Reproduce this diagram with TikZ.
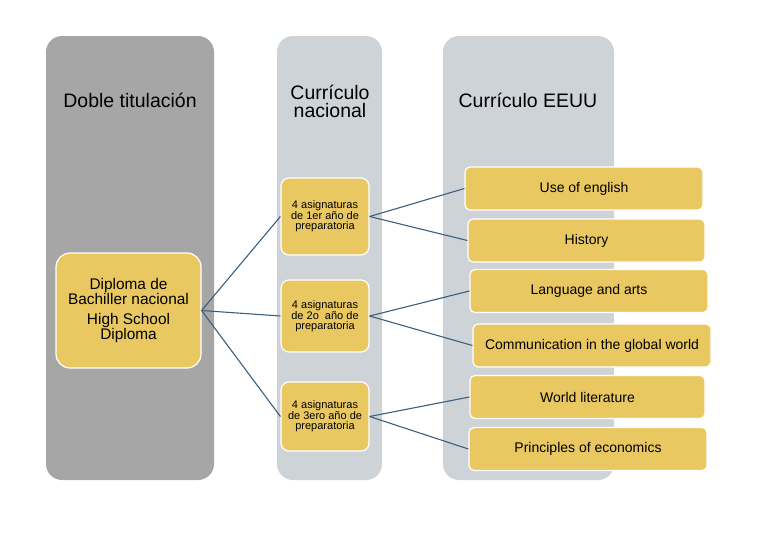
\documentclass[tikz,border=0pt]{standalone}
\usepackage{fontspec}
\setmainfont{Liberation Sans}
\definecolor{colA}{HTML}{A6A6A6}
\definecolor{colB}{HTML}{CED3D8}
\definecolor{gold}{HTML}{E9C862}
\definecolor{link}{HTML}{3B5F7E}
\tikzset{
  column/.style={rounded corners=16pt, draw=none},
  title/.style={font=\fontsize{19.5}{18}\selectfont, align=center, text=black},
  goldbox/.style={fill=gold, draw=white, line width=1.2pt, rectangle, inner sep=0pt, align=center},
  yearbox/.style={goldbox, rounded corners=8pt, minimum width=88pt, font=\fontsize{11}{10}\selectfont},
  subjbox/.style={goldbox, rounded corners=5pt, minimum height=43pt, font=\fontsize{14}{14}\selectfont},
  conn/.style={draw=link, line width=1.1pt}
}
\begin{document}
\begin{tikzpicture}[x=1pt,y=-1pt]
\useasboundingbox (0,0) rectangle (768,539);
% columns
\path[column, fill=colA] (46,36) rectangle (214,480);
\path[column, fill=colB] (277,36) rectangle (382,480);
\path[column, fill=colB] (443,36) rectangle (614,480);
\node[title] (t1) at (130,100) {Doble titulación};
\node[title] (t2) at (330,101) {Currículo\\nacional};
\node[title] (t3) at (528,100) {Currículo EEUU};
% diploma
\node[goldbox, rounded corners=14pt, minimum width=145pt, minimum height=115pt,
      font=\fontsize{15.4}{14}\selectfont] (dip) at (128.5,310.5)
  {Diploma de\\Bachiller nacional\\[6pt]High School\\Diploma};
% year boxes
\node[yearbox, minimum height=77pt] (y1) at (325,216.5) {4 asignaturas\\de 1er año de\\preparatoria};
\node[yearbox, minimum height=72pt] (y2) at (325,316) {4 asignaturas\\de 2o\ \ año de\\preparatoria};
\node[yearbox, minimum height=69pt] (y3) at (325,416.5) {4 asignaturas\\de 3ero año de\\preparatoria};
% subject boxes
\node[subjbox, minimum width=238pt] (s1) at (584,188.5) {Use of english};
\node[subjbox, minimum width=237pt] (s2) at (586.5,240.5) {History};
\node[subjbox, minimum width=238pt] (s3) at (589,291) {Language and arts};
\node[subjbox, minimum width=238pt] (s4) at (592,345.5) {Communication in the global world};
\node[subjbox, minimum width=235pt] (s5) at (587.5,397) {World literature};
\node[subjbox, minimum width=238pt] (s6) at (588,449) {Principles of economics};
% connectors
\draw[conn] (dip.east) -- (y1.west);
\draw[conn] (dip.east) -- (y2.west);
\draw[conn] (dip.east) -- (y3.west);
\draw[conn] (y1.east) -- (s1.west);
\draw[conn] (y1.east) -- (s2.west);
\draw[conn] (y2.east) -- (s3.west);
\draw[conn] (y2.east) -- (s4.west);
\draw[conn] (y3.east) -- (s5.west);
\draw[conn] (y3.east) -- (s6.west);
\end{tikzpicture}
\end{document}
